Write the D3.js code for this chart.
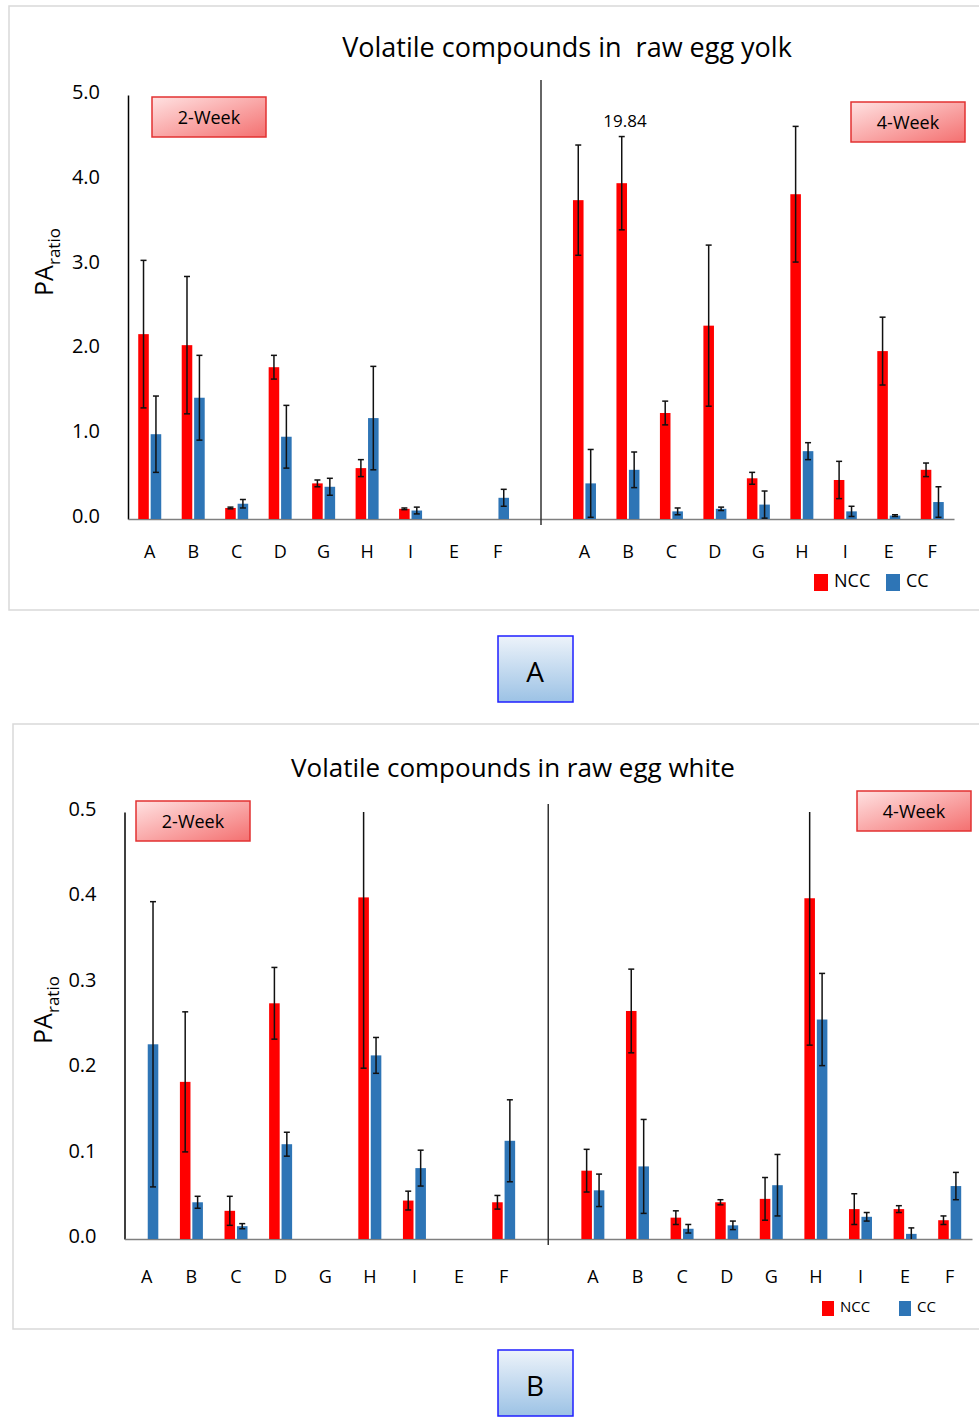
<!DOCTYPE html>
<html>
<head>
<meta charset="utf-8">
<script src="https://cdn.jsdelivr.net/npm/d3@7"></script>
<style>
  body { margin: 0; background: #fff; }
  svg text { font-family: "Open Sans", "Noto Sans", sans-serif; fill: #000; }
</style>
</head>
<body>
<div id="chart"></div>
<script>
// compounds, same order in both halves
var categories = ["A", "B", "C", "D", "G", "H", "I", "E", "F"];
var series = ["NCC", "CC"];
var colors = { NCC: "#ff0000", CC: "#2e75b6" };

// raw egg yolk
var yolkTicks = [0, 1, 2, 3, 4, 5];
var yolk2wNCC = [2.18, 2.05, 0.13, 1.79, 0.42, 0.60, 0.12, 0, 0];
var yolk2wNCCErr = [0.87, 0.81, 0.01, 0.14, 0.04, 0.10, 0.01, 0, 0];
var yolk2wCC = [1.00, 1.43, 0.18, 0.97, 0.38, 1.19, 0.10, 0, 0.25];
var yolk2wCCErr = [0.45, 0.50, 0.05, 0.37, 0.10, 0.61, 0.04, 0, 0.10];
var yolk4wNCC = [3.76, 3.96, 1.25, 2.28, 0.48, 3.83, 0.46, 1.98, 0.58];
var yolk4wNCCErr = [0.65, 0.55, 0.14, 0.95, 0.07, 0.80, 0.22, 0.40, 0.08];
var yolk4wCC = [0.42, 0.58, 0.09, 0.12, 0.17, 0.80, 0.09, 0.04, 0.20];
var yolk4wCCErr = [0.40, 0.21, 0.04, 0.02, 0.16, 0.10, 0.06, 0.01, 0.18];

// raw egg white
var whiteTicks = [0, 0.1, 0.2, 0.3, 0.4, 0.5];
var white2wNCC = [0, 0.184, 0.033, 0.276, 0, 0.400, 0.045, 0, 0.043];
var white2wNCCErr = [0, 0.082, 0.017, 0.042, 0, 0.200, 0.011, 0, 0.008];
var white2wCC = [0.228, 0.043, 0.015, 0.111, 0, 0.215, 0.083, 0, 0.115];
var white2wCCErr = [0.167, 0.007, 0.003, 0.014, 0, 0.021, 0.021, 0, 0.048];
var white4wNCC = [0.080, 0.267, 0.025, 0.043, 0.047, 0.399, 0.035, 0.035, 0.022];
var white4wNCCErr = [0.025, 0.049, 0.008, 0.003, 0.025, 0.172, 0.018, 0.004, 0.005];
var white4wCC = [0.057, 0.085, 0.012, 0.016, 0.063, 0.257, 0.026, 0.006, 0.062];
var white4wCCErr = [0.019, 0.055, 0.005, 0.005, 0.036, 0.054, 0.005, 0.007, 0.016];

var svg = d3.select("#chart").append("svg")
  .attr("width", 979)
  .attr("height", 1418);

var defs = svg.append("defs");
var gw = defs.append("linearGradient").attr("id", "weekFill")
  .attr("x1", "0%").attr("y1", "0%").attr("x2", "100%").attr("y2", "100%");
gw.append("stop").attr("offset", "0%").attr("stop-color", "#ffe2e2");
gw.append("stop").attr("offset", "100%").attr("stop-color", "#f47070");
var gl = defs.append("linearGradient").attr("id", "labelFill")
  .attr("x1", "0%").attr("y1", "0%").attr("x2", "0%").attr("y2", "100%");
gl.append("stop").attr("offset", "0%").attr("stop-color", "#edf3fa");
gl.append("stop").attr("offset", "100%").attr("stop-color", "#9cc2e5");

function rows(vals, errs, key) {
  return vals.map(function(v, i) {
    return { cat: categories[i], series: key, value: v, err: errs[i] };
  });
}

function drawPanel(cfg) {
  var g = svg.append("g");

  //frame
  g.append("rect")
    .attr("x", cfg.frame[0]).attr("y", cfg.frame[1])
    .attr("width", cfg.frame[2]).attr("height", cfg.frame[3])
    .attr("fill", "none").attr("stroke", "#d9d9d9").attr("stroke-width", 1.5);

  g.append("text")
    .attr("x", cfg.titleX).attr("y", cfg.titleY)
    .attr("text-anchor", "middle")
    .style("font-size", cfg.titleSize + "px")
    .style("white-space", "pre")
    .text(cfg.title);

  //19 slots: 2-week, empty gap, 4-week
  var slots = categories.map(function(c) { return "2w-" + c; })
    .concat(["gap"])
    .concat(categories.map(function(c) { return "4w-" + c; }));

  var x = d3.scaleBand().domain(slots).range([cfg.left, cfg.right]);
  var bw = x.bandwidth();
  var x1 = d3.scaleBand().domain(series)
    .range([bw / 2 - 11.5, bw / 2 + 11.5]).paddingInner(0.15);
  var y = d3.scaleLinear().domain([0, cfg.max]).range([cfg.base, cfg.top]);

  var data = rows(cfg.w2[0], cfg.w2[1], "NCC").map(function(d) { d.slot = "2w-" + d.cat; return d; })
    .concat(rows(cfg.w2[2], cfg.w2[3], "CC").map(function(d) { d.slot = "2w-" + d.cat; return d; }))
    .concat(rows(cfg.w4[0], cfg.w4[1], "NCC").map(function(d) { d.slot = "4w-" + d.cat; return d; }))
    .concat(rows(cfg.w4[2], cfg.w4[3], "CC").map(function(d) { d.slot = "4w-" + d.cat; return d; }))
    .filter(function(d) { return d.value > 0; });

  //y axis
  var yAxis = g.append("g")
    .attr("transform", "translate(" + cfg.left + ",0)")
    .call(d3.axisLeft(y).tickValues(cfg.ticks).tickFormat(d3.format(".1f")).tickSize(0).tickPadding(28));
  yAxis.select(".domain").attr("stroke", "#000").attr("stroke-width", 1.5);
  yAxis.selectAll("text")
    .attr("dy", "0.17em")
    .style("font-size", "20px").style("font-family", "Open Sans, sans-serif");

  //x axis labels
  var xAxis = g.append("g")
    .attr("transform", "translate(0," + cfg.base + ")")
    .call(d3.axisBottom(x).tickSize(0).tickPadding(cfg.xPad).tickFormat(function(d) {
      return d === "gap" ? "" : d.slice(3);
    }));
  xAxis.select(".domain").attr("stroke", "#7f7f7f").attr("stroke-width", 1.5);
  xAxis.selectAll("text").style("font-size", "18px").style("font-family", "Open Sans, sans-serif");

  //divider between weeks
  g.append("line")
    .attr("x1", x("gap") + bw / 2).attr("x2", x("gap") + bw / 2)
    .attr("y1", cfg.divTop).attr("y2", cfg.base + 6)
    .attr("stroke", "#333").attr("stroke-width", 1.5);

  g.append("g").selectAll("rect")
    .data(data)
    .enter()
    .append("rect")
    .attr("x", function(d) { return x(d.slot) + x1(d.series); })
    .attr("width", x1.bandwidth())
    .attr("y", function(d) { return y(d.value); })
    .attr("height", function(d) { return cfg.base - y(d.value); })
    .style("fill", function(d) { return colors[d.series]; });

  //error bars
  var eb = g.append("g").selectAll("g")
    .data(data.filter(function(d) { return d.err > 0; }))
    .enter()
    .append("g")
    .attr("transform", function(d) {
      return "translate(" + (x(d.slot) + x1(d.series) + x1.bandwidth() / 2) + ",0)";
    });
  eb.append("line")
    .attr("y1", function(d) { return y(Math.min(cfg.max, d.value + d.err)); })
    .attr("y2", function(d) { return y(Math.max(0, d.value - d.err)); })
    .attr("stroke", "#111").attr("stroke-width", 1.5);
  eb.filter(function(d) { return d.value + d.err <= cfg.max; })
    .append("line")
    .attr("x1", -3).attr("x2", 3)
    .attr("y1", function(d) { return y(d.value + d.err); })
    .attr("y2", function(d) { return y(d.value + d.err); })
    .attr("stroke", "#111").attr("stroke-width", 1.5);
  eb.filter(function(d) { return d.value - d.err > 0; })
    .append("line")
    .attr("x1", -3).attr("x2", 3)
    .attr("y1", function(d) { return y(d.value - d.err); })
    .attr("y2", function(d) { return y(d.value - d.err); })
    .attr("stroke", "#111").attr("stroke-width", 1.5);

  //y title
  var yt = g.append("text")
    .attr("transform", "translate(" + cfg.yTitle[0] + "," + cfg.yTitle[1] + ") rotate(-90)")
    .attr("text-anchor", "middle")
    .style("font-size", "25px");
  yt.append("tspan").text("PA");
  yt.append("tspan").attr("dy", 7).style("font-size", "17px").text("ratio");

  //week boxes
  cfg.weeks.forEach(function(w) {
    g.append("rect")
      .attr("x", w.x).attr("y", w.y).attr("width", 114).attr("height", 40)
      .attr("fill", "url(#weekFill)").attr("stroke", "#e23232").attr("stroke-width", 1.5);
    g.append("text")
      .attr("x", w.x + 57).attr("y", w.y + 27)
      .attr("text-anchor", "middle")
      .style("font-size", "18px")
      .text(w.label);
  });

  //legend
  var legend = g.append("g").selectAll("g")
    .data(series)
    .enter()
    .append("g")
    .attr("transform", function(d, i) {
      return "translate(" + (cfg.legend[0] + i * cfg.legend[2]) + "," + cfg.legend[1] + ")";
    });
  legend.append("rect")
    .attr("width", cfg.legend[3]).attr("height", cfg.legend[3] + 3)
    .style("fill", function(d) { return colors[d]; });
  legend.append("text")
    .attr("x", cfg.legend[3] + 6).attr("y", cfg.legend[3] - 1)
    .style("font-size", cfg.legend[4] + "px")
    .text(function(d) { return d; });

  //panel tag
  g.append("rect")
    .attr("x", 498).attr("y", cfg.tagY).attr("width", 75).attr("height", 66)
    .attr("fill", "url(#labelFill)").attr("stroke", "#1f1fff").attr("stroke-width", 1.5);
  g.append("text")
    .attr("x", 535).attr("y", cfg.tagY + 46)
    .attr("text-anchor", "middle")
    .style("font-size", "28px")
    .text(cfg.tag);

  return { x: x, y: y };
}

var yolkScales = drawPanel({
  frame: [9, 6, 980, 604],
  title: "Volatile compounds in  raw egg yolk",
  titleX: 567, titleY: 57, titleSize: 27,
  left: 128, right: 954, base: 519, top: 95, max: 5,
  ticks: yolkTicks, xPad: 26, divTop: 80,
  w2: [yolk2wNCC, yolk2wNCCErr, yolk2wCC, yolk2wCCErr],
  w4: [yolk4wNCC, yolk4wNCCErr, yolk4wCC, yolk4wCCErr],
  yTitle: [53, 262],
  weeks: [{ x: 152, y: 97, label: "2-Week" }, { x: 851, y: 102, label: "4-Week" }],
  legend: [814, 574, 72, 14, 18],
  tagY: 636, tag: "A"
});

//value printed above the 4-week B bar
svg.append("text")
  .attr("x", yolkScales.x("4w-B") + yolkScales.x.bandwidth() / 2 - 3)
  .attr("y", 127)
  .attr("text-anchor", "middle")
  .style("font-size", "17px")
  .text("19.84");

drawPanel({
  frame: [13, 724, 980, 605],
  title: "Volatile compounds in raw egg white",
  titleX: 513, titleY: 777, titleSize: 26,
  left: 124.5, right: 972, base: 1239, top: 812, max: 0.5,
  ticks: whiteTicks, xPad: 31, divTop: 804,
  w2: [white2wNCC, white2wNCCErr, white2wCC, white2wCCErr],
  w4: [white4wNCC, white4wNCCErr, white4wCC, white4wCCErr],
  yTitle: [52, 1010],
  weeks: [{ x: 136, y: 801, label: "2-Week" }, { x: 857, y: 791, label: "4-Week" }],
  legend: [822, 1301, 77, 12, 15],
  tagY: 1350, tag: "B"
});
</script>
</body>
</html>
